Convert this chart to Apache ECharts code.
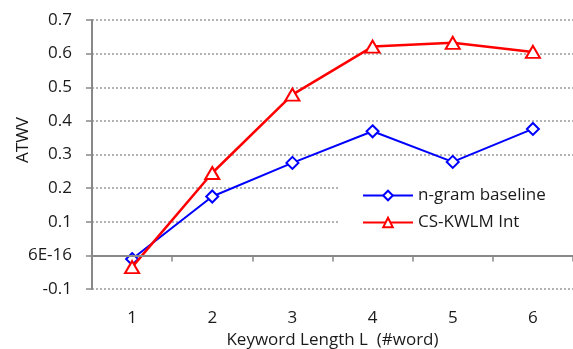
<!DOCTYPE html>
<html>
<head>
<meta charset="utf-8">
<script src="https://cdn.jsdelivr.net/npm/echarts@6/dist/echarts.min.js"></script>
<style>html,body{margin:0;padding:0;background:#fff}#c{width:573px;height:349px}</style>
</head>
<body>
<div id="c"></div>
<script>
const categories = ['1', '2', '3', '4', '5', '6'];
const ngramBaseline = [-0.011, 0.175, 0.275, 0.369, 0.278, 0.376];
const csKwlmInt = [-0.035, 0.245, 0.478, 0.621, 0.632, 0.605];
const yTickLabels = {'-0.1': '-0.1', '0': '6E-16', '0.1': '0.1', '0.2': '0.2', '0.3': '0.3', '0.4': '0.4', '0.5': '0.5', '0.6': '0.6', '0.7': '0.7'};

const FONT = 'Open Sans';
const FS = 17;
const TXT = '#1a1a1a';
const chart = echarts.init(document.getElementById('c'), null, {renderer: 'canvas'});
chart.setOption({
  animation: false,
  backgroundColor: '#fff',
  textStyle: {fontFamily: FONT},
  grid: {left: 92, right: 0, top: 20, bottom: 60, containLabel: false, outerBoundsMode: 'none'},
  legend: {
    left: 340, top: 169,
    orient: 'vertical',
    backgroundColor: '#fff',
    padding: [18, 40, 18, 22],
    itemGap: 10,
    itemWidth: 50, itemHeight: 12,
    textStyle: {fontFamily: FONT, fontSize: FS, color: TXT},
    data: ['n-gram baseline', 'CS-KWLM Int'],
    z: 1
  },
  xAxis: {
    type: 'category',
    data: categories,
    boundaryGap: true,
    axisLine: {onZero: true, lineStyle: {color: '#888', width: 2}},
    axisTick: {show: true, inside: false, length: 6, lineStyle: {color: '#888', width: 1.5}},
    axisLabel: {margin: 21, fontFamily: FONT, fontSize: FS, color: TXT},
    splitLine: {show: false},
    name: 'Keyword Length L  (#word)',
    nameLocation: 'middle',
    nameGap: 40,
    nameTextStyle: {fontFamily: FONT, fontSize: FS, color: TXT},
    z: 5
  },
  yAxis: {
    type: 'value',
    min: -0.1, max: 0.7, interval: 0.1,
    axisLine: {show: true, lineStyle: {color: '#888', width: 2}},
    axisTick: {show: true, inside: false, length: 6, lineStyle: {color: '#888', width: 1.5}},
    axisLabel: {
      margin: 20, fontFamily: FONT, fontSize: FS, color: TXT,
      formatter: function (v) { const k = String(Math.round(v * 10) / 10); return yTickLabels[k] !== undefined ? yTickLabels[k] : k; }
    },
    splitLine: {show: true, lineStyle: {color: '#9a9a9a', type: [2, 2], width: 1.5}}
  },
  graphic: [{
    type: 'text', rotation: Math.PI / 2, x: 23, y: 140,
    style: {text: 'ATWV', fontFamily: FONT, fontSize: FS, fill: TXT, align: 'center', verticalAlign: 'middle'}
  }],
  series: [
    {
      name: 'n-gram baseline', type: 'line', data: ngramBaseline,
      symbol: 'diamond', symbolSize: [12, 12], showAllSymbol: true,
      lineStyle: {color: '#0000ff', width: 2},
      itemStyle: {color: '#fff', borderColor: '#0000ff', borderWidth: 2},
      color: '#0000ff', z: 3
    },
    {
      name: 'CS-KWLM Int', type: 'line', data: csKwlmInt,
      symbol: 'triangle', symbolSize: [14, 12], showAllSymbol: true,
      lineStyle: {color: '#ff0000', width: 2.5},
      itemStyle: {color: '#fff', borderColor: '#ff0000', borderWidth: 2},
      color: '#ff0000', z: 4
    }
  ]
});
</script>
</body>
</html>
